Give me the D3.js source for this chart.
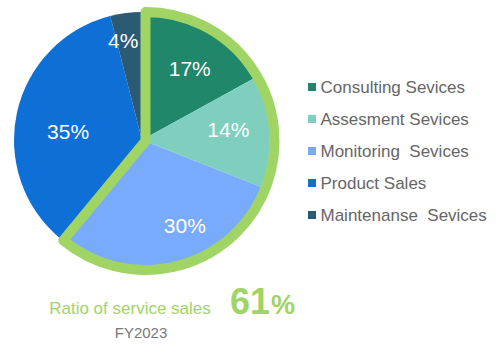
<!DOCTYPE html>
<html>
<head>
<meta charset="utf-8">
<script src="https://cdn.jsdelivr.net/npm/d3@7"></script>
<style>
  html, body { margin: 0; padding: 0; background: #ffffff; }
  svg { display: block; font-family: "Liberation Sans", Arial, sans-serif; }
</style>
</head>
<body>
<svg id="chart" width="500" height="350"></svg>
<script>
// Sales mix, FY2023
const categories = [
  "Consulting Sevices",
  "Assesment Sevices",
  "Monitoring  Sevices",
  "Product Sales",
  "Maintenanse  Sevices"
];
const shares = [17, 14, 30, 35, 4];
const serviceCategories = ["Consulting Sevices", "Assesment Sevices", "Monitoring  Sevices"];
const fiscalYear = "FY2023";
const ratioTitle = "Ratio of service sales";

const colors = ["#20876a", "#7fcfbf", "#78abfb", "#0e6fd6", "#2b5a75"];
const accent = "#a0d565";

// layout
const cx = 142, cy = 140, radius = 128;
const labelRadius = 88;
// small hand adjustments so each percentage sits comfortably inside its wedge
const labelNudge = [[3, 4], [-1.5, -4.5], [21, 0], [12, 11], [-7.7, -12.7]];

const svg = d3.select("#chart");

const data = categories.map((c, i) => ({ name: c, value: shares[i], color: colors[i], i }));

const pie = d3.pie().sort(null).value(d => d.value);
const arcs = pie(data);

const arc = d3.arc().innerRadius(0).outerRadius(radius);
const labelArc = d3.arc().innerRadius(labelRadius).outerRadius(labelRadius);

const g = svg.append("g").attr("transform", `translate(${cx},${cy})`);

g.selectAll("path.slice")
  .data(arcs)
  .join("path")
  .attr("class", "slice")
  .attr("d", arc)
  .attr("fill", d => d.data.color);

// outline around the service wedges
const serviceTotal = d3.sum(data.filter(d => serviceCategories.includes(d.name)), d => d.value);
const total = d3.sum(shares);
const outlineArc = d3.arc()
  .innerRadius(0)
  .outerRadius(radius + 1)
  .startAngle(0)
  .endAngle(2 * Math.PI * serviceTotal / total);

svg.append("path")
  .attr("transform", `translate(${cx + 3.5},${cy + 1})`)
  .attr("d", outlineArc())
  .attr("fill", "none")
  .attr("stroke", accent)
  .attr("stroke-width", 10)
  .attr("stroke-linejoin", "round");

// percentage labels
g.selectAll("text.pct")
  .data(arcs)
  .join("text")
  .attr("class", "pct")
  .attr("x", d => labelArc.centroid(d)[0] + labelNudge[d.data.i][0])
  .attr("y", d => labelArc.centroid(d)[1] + labelNudge[d.data.i][1])
  .attr("text-anchor", "middle")
  .attr("dominant-baseline", "central")
  .attr("fill", "#ffffff")
  .attr("font-size", 21)
  .text(d => d.data.value + "%");

// legend
const legend = svg.append("g").attr("transform", "translate(308,87)");
const rowH = 32;
const rows = legend.selectAll("g.row")
  .data(data)
  .join("g")
  .attr("class", "row")
  .attr("transform", (d, i) => `translate(0,${i * rowH})`);
rows.append("rect")
  .attr("x", 0).attr("y", -4)
  .attr("width", 8).attr("height", 8)
  .attr("fill", d => d.color);
rows.append("text")
  .attr("x", 12.5)
  .attr("y", 0)
  .attr("dominant-baseline", "central")
  .attr("fill", "#666666")
  .attr("font-size", 17)
  .style("white-space", "pre")
  .attr("xml:space", "preserve")
  .text(d => d.name);

// service ratio caption
svg.append("text")
  .attr("x", 130)
  .attr("y", 314)
  .attr("text-anchor", "middle")
  .attr("fill", accent)
  .attr("font-size", 17)
  .text(ratioTitle);

const big = svg.append("text")
  .attr("x", 230)
  .attr("y", 314)
  .attr("fill", accent)
  .attr("font-weight", "bold");
big.append("tspan").attr("font-size", 36).text(Math.round(serviceTotal / total * 100));
big.append("tspan").attr("dx", 1).attr("font-size", 27).text("%");

svg.append("text")
  .attr("x", 141)
  .attr("y", 338)
  .attr("text-anchor", "middle")
  .attr("fill", "#777777")
  .attr("font-size", 15)
  .text(fiscalYear);
</script>
</body>
</html>
